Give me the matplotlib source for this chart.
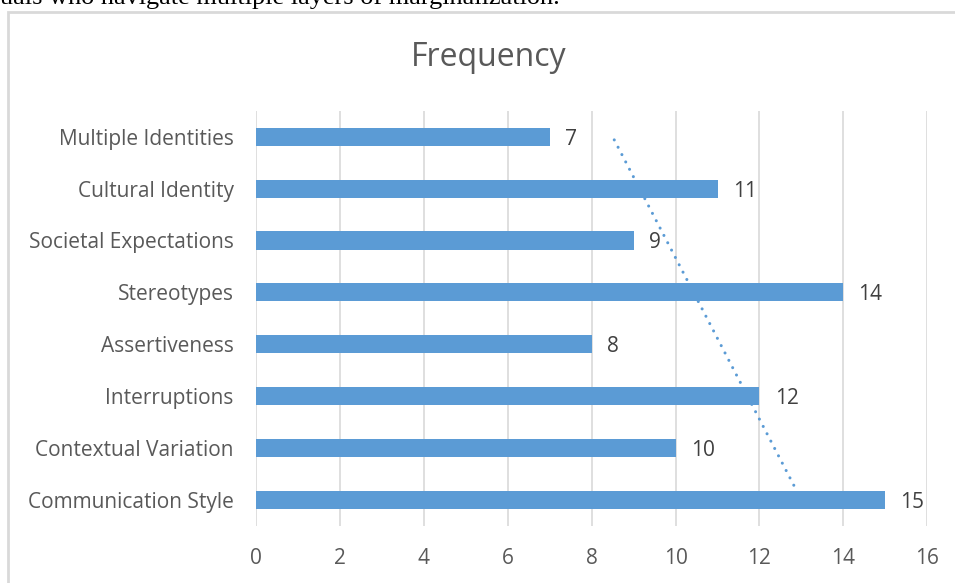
import matplotlib.pyplot as plt
import numpy as np
from matplotlib.patches import Rectangle

# categories listed bottom to top, as they appear on the axis
categories = ["Communication Style", "Contextual Variation", "Interruptions",
              "Assertiveness", "Stereotypes", "Societal Expectations",
              "Cultural Identity", "Multiple Identities"]
frequency = [15, 10, 12, 8, 14, 9, 11, 7]
x_ticks = [0, 2, 4, 6, 8, 10, 12, 14, 16]

bar_color = "#5b9bd5"
text_color = "#595959"
grid_color = "#d9d9d9"

plt.rcParams["font.family"] = ["Open Sans", "DejaVu Sans"]

fig = plt.figure(figsize=(9.55, 5.83), dpi=100)

# surrounding document text and chart frame
fig.text(0.0, 0.9928, "uals who navigate multiple layers of marginalization.",
         family="Liberation Serif", fontsize=18.9, color="black",
         ha="left", va="baseline")
fig.patches.append(Rectangle((0.0084, -0.1), 1.2, 1.0794, transform=fig.transFigure,
                             fill=False, edgecolor=grid_color, linewidth=2))

ax = fig.add_axes([0.268, 0.098, 0.703, 0.712])
pos = np.arange(len(categories))

ax.barh(pos, frequency, height=0.35, color=bar_color, zorder=3)
for y, v in zip(pos, frequency):
    ax.text(v + 0.36, y, str(v), va="center_baseline", ha="left", fontsize=15,
            color="#404040", zorder=4)

# linear trendline over category index
slope, intercept = np.polyfit(pos, frequency, 1)
trend = slope * pos + intercept
ax.plot(trend, pos, color=bar_color, linewidth=2.2,
        linestyle=(0, (0.01, 2.7)), dash_capstyle="round", zorder=2)

ax.set_xlim(0, 16)
ax.set_ylim(-0.5, len(categories) - 0.5)
ax.set_xticks(x_ticks)
ax.set_yticks(pos)
ax.set_yticklabels(categories)
ax.tick_params(length=0, labelsize=15, colors=text_color)
ax.tick_params(axis="y", pad=16)
ax.tick_params(axis="x", pad=16)
ax.xaxis.grid(True, color=grid_color, linewidth=1.2, zorder=0)
ax.set_axisbelow(True)
for s in ax.spines.values():
    s.set_visible(False)

fig.text(0.512, 0.902, "Frequency", ha="center", va="center",
         fontsize=23, color=text_color)

fig.savefig("out.png", dpi=100)
